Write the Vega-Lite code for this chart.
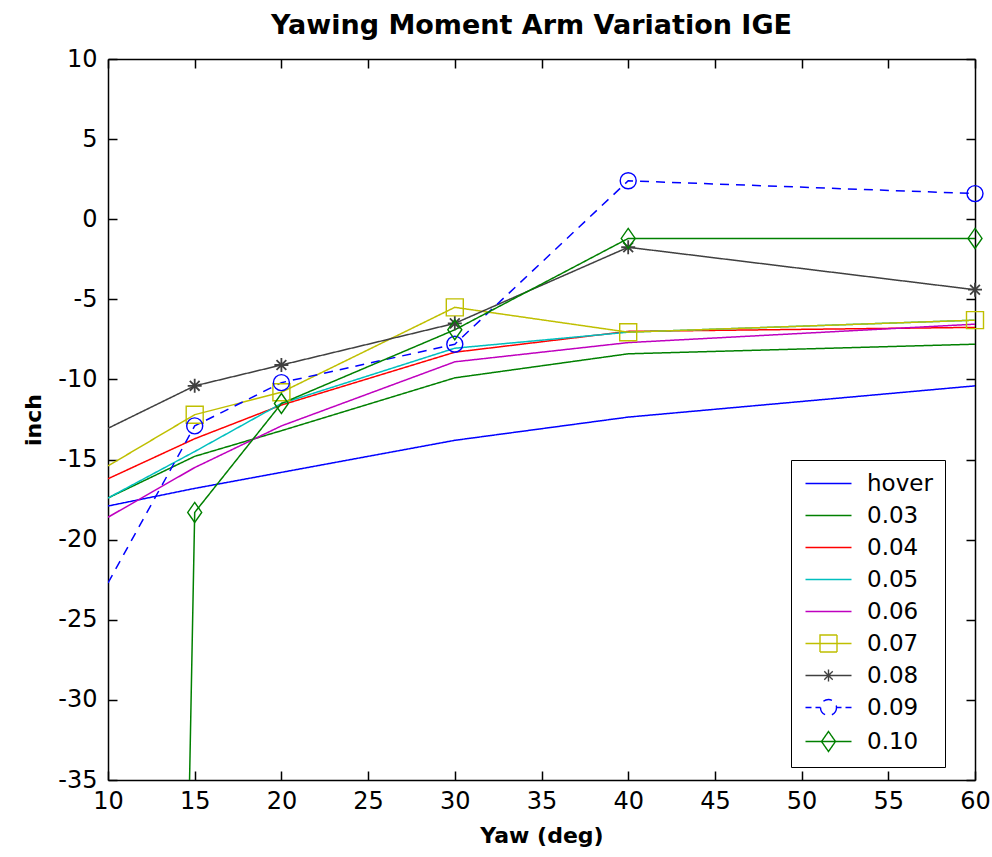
{
  "$schema": "https://vega.github.io/schema/vega-lite/v6.json",
  "width": 867,
  "height": 721,
  "autosize": "none",
  "padding": {"left": 108, "top": 59, "right": 17, "bottom": 77},
  "background": "white",
  "title": {"text": "Yawing Moment Arm Variation IGE", "font": "DejaVu Sans", "fontSize": 27, "fontWeight": "bold", "color": "black", "anchor": "middle", "offset": 7, "dx": -10},
  "config": {"view": {"stroke": null}},
  "data": {"values": [
    {"x": 10, "s": "hover", "v": -17.9}, {"x": 15, "s": "hover", "v": -16.8}, {"x": 20, "s": "hover", "v": -15.8}, {"x": 30, "s": "hover", "v": -13.8}, {"x": 40, "s": "hover", "v": -12.35}, {"x": 60, "s": "hover", "v": -10.4},
    {"x": 10, "s": "0.03", "v": -17.4}, {"x": 15, "s": "0.03", "v": -14.8}, {"x": 20, "s": "0.03", "v": -13.2}, {"x": 30, "s": "0.03", "v": -9.9}, {"x": 40, "s": "0.03", "v": -8.4}, {"x": 60, "s": "0.03", "v": -7.8},
    {"x": 10, "s": "0.04", "v": -16.2}, {"x": 15, "s": "0.04", "v": -13.7}, {"x": 20, "s": "0.04", "v": -11.6}, {"x": 30, "s": "0.04", "v": -8.3}, {"x": 40, "s": "0.04", "v": -7.0}, {"x": 60, "s": "0.04", "v": -6.75},
    {"x": 10, "s": "0.05", "v": -17.4}, {"x": 15, "s": "0.05", "v": -14.5}, {"x": 20, "s": "0.05", "v": -11.5}, {"x": 30, "s": "0.05", "v": -8.05}, {"x": 40, "s": "0.05", "v": -7.05}, {"x": 60, "s": "0.05", "v": -6.3},
    {"x": 10, "s": "0.06", "v": -18.6}, {"x": 15, "s": "0.06", "v": -15.5}, {"x": 20, "s": "0.06", "v": -12.9}, {"x": 30, "s": "0.06", "v": -8.9}, {"x": 40, "s": "0.06", "v": -7.7}, {"x": 60, "s": "0.06", "v": -6.55},
    {"x": 10, "s": "0.07", "v": -15.4}, {"x": 15, "s": "0.07", "v": -12.2}, {"x": 20, "s": "0.07", "v": -10.8}, {"x": 30, "s": "0.07", "v": -5.5}, {"x": 40, "s": "0.07", "v": -7.05}, {"x": 60, "s": "0.07", "v": -6.3},
    {"x": 10, "s": "0.08", "v": -13.05}, {"x": 15, "s": "0.08", "v": -10.4}, {"x": 20, "s": "0.08", "v": -9.1}, {"x": 30, "s": "0.08", "v": -6.5}, {"x": 40, "s": "0.08", "v": -1.75}, {"x": 60, "s": "0.08", "v": -4.4},
    {"x": 10, "s": "0.09", "v": -22.7}, {"x": 15, "s": "0.09", "v": -12.9}, {"x": 20, "s": "0.09", "v": -10.2}, {"x": 30, "s": "0.09", "v": -7.8}, {"x": 40, "s": "0.09", "v": 2.4}, {"x": 60, "s": "0.09", "v": 1.6},
    {"x": 10, "s": "0.10", "v": -300}, {"x": 15, "s": "0.10", "v": -18.3}, {"x": 20, "s": "0.10", "v": -11.5}, {"x": 30, "s": "0.10", "v": -6.9}, {"x": 40, "s": "0.10", "v": -1.2}, {"x": 60, "s": "0.10", "v": -1.2}
  ]},
  "layer": [
    {
      "transform": [{"filter": "datum.x < 0"}],
      "mark": {"type": "point", "filled": false, "strokeWidth": 1.4},
      "encoding": {
        "x": {"field": "x", "type": "quantitative", "axis": null, "scale": {"domain": [10, 60], "nice": false, "zero": false}},
        "y": {"field": "v", "type": "quantitative", "axis": null, "scale": {"domain": [-35, 10], "nice": false, "zero": false}},
        "color": {"field": "s", "type": "nominal",
          "scale": {"domain": ["hover", "0.03", "0.04", "0.05", "0.06", "0.07", "0.08", "0.09", "0.10"],
            "range": ["#0000FF", "#008000", "#FF0000", "#00BFBF", "#BF00BF", "#BFBF00", "#404040", "#0000FF", "#008000"]},
          "legend": {"title": null, "orient": "none", "legendX": 683, "legendY": 401, "padding": 12, "strokeColor": "black", "fillColor": "white", "cornerRadius": 0, "labelFont": "DejaVu Sans", "labelFontSize": 23, "labelColor": "black", "symbolSize": 400, "symbolStrokeWidth": 1.4, "symbolOpacity": 1, "labelOffset": 41, "rowPadding": 8}},
        "shape": {"field": "s", "type": "nominal",
          "scale": {"domain": ["hover", "0.03", "0.04", "0.05", "0.06", "0.07", "0.08", "0.09", "0.10"],
            "range": [
              "M-0.9,0H3.7",
              "M-0.9,0H3.7",
              "M-0.9,0H3.7",
              "M-0.9,0H3.7",
              "M-0.9,0H3.7",
              "M-0.9,0H3.7M0.55,-0.85H2.25V0.85H0.55Z",
              "M-0.9,0H3.7M1.4,-0.6V0.6M0.8,0H2.0M0.98,-0.42L1.82,0.42M0.98,0.42L1.82,-0.42",
              "M-0.9,0H-0.3M0.1,0H0.6M2.2,0H2.7M3.1,0H3.7M2.2,0A0.8,0.8,0,0,1,1.4,0.8A0.8,0.8,0,0,1,0.6,0A0.8,0.8,0,0,1,1.4,-0.8A0.8,0.8,0,0,1,2.2,0",
              "M-0.9,0H3.7M1.4,-1L2.1,0L1.4,1L0.7,0Z"
            ]},
          "legend": {"title": null, "orient": "none", "legendX": 683, "legendY": 401}}
      }
    },
    {
      "mark": {"type": "line", "clip": true, "strokeWidth": 1.5},
      "encoding": {
        "x": {"field": "x", "type": "quantitative",
          "axis": {"values": [10, 15, 20, 25, 30, 35, 40, 45, 50, 55, 60], "labelExpr": "'' + datum.value", "grid": false, "tickSize": -9, "tickWidth": 1.5, "tickColor": "black", "domainColor": "black", "domainWidth": 1.5, "labelFont": "DejaVu Sans", "labelFontSize": 24, "labelColor": "black", "labelPadding": 18, "labelFlush": false, "title": "Yaw (deg)", "titleFont": "DejaVu Sans", "titleFontSize": 22, "titleFontWeight": "bold", "titleColor": "black", "titlePadding": 12}},
        "y": {"field": "v", "type": "quantitative",
          "axis": {"values": [-35, -30, -25, -20, -15, -10, -5, 0, 5, 10], "labelExpr": "'' + datum.value", "grid": false, "tickSize": -9, "tickWidth": 1.5, "tickColor": "black", "domainColor": "black", "domainWidth": 1.5, "labelFont": "DejaVu Sans", "labelFontSize": 24, "labelColor": "black", "labelPadding": 20, "labelFlush": false, "title": "inch", "titleFont": "DejaVu Sans", "titleFontSize": 22, "titleFontWeight": "bold", "titleColor": "black", "titlePadding": 12}},
        "color": {"field": "s", "type": "nominal", "legend": null},
        "strokeDash": {"field": "s", "type": "nominal", "legend": null,
          "scale": {"domain": ["hover", "0.03", "0.04", "0.05", "0.06", "0.07", "0.08", "0.09", "0.10"],
            "range": [[1, 0], [1, 0], [1, 0], [1, 0], [1, 0], [1, 0], [1, 0], [9, 7], [1, 0]]}}
      }
    },
    {
      "transform": [{"filter": "datum.x >= 15 && datum.s == '0.07'"}],
      "mark": {"type": "point", "shape": "square", "size": 289, "filled": false, "strokeWidth": 1.4, "opacity": 1},
      "encoding": {"x": {"field": "x", "type": "quantitative", "axis": null}, "y": {"field": "v", "type": "quantitative", "axis": null}, "color": {"field": "s", "type": "nominal", "legend": null}}
    },
    {
      "transform": [{"filter": "datum.x >= 15 && datum.s == '0.08'"}],
      "mark": {"type": "point", "shape": "M0,-1V1M-1,0H1M-0.7,-0.7L0.7,0.7M-0.7,0.7L0.7,-0.7", "size": 196, "filled": false, "strokeWidth": 1.8, "opacity": 1},
      "encoding": {"x": {"field": "x", "type": "quantitative", "axis": null}, "y": {"field": "v", "type": "quantitative", "axis": null}, "color": {"field": "s", "type": "nominal", "legend": null}}
    },
    {
      "transform": [{"filter": "datum.x >= 15 && datum.s == '0.09'"}],
      "mark": {"type": "point", "shape": "circle", "size": 256, "filled": false, "strokeWidth": 1.4, "opacity": 1},
      "encoding": {"x": {"field": "x", "type": "quantitative", "axis": null}, "y": {"field": "v", "type": "quantitative", "axis": null}, "color": {"field": "s", "type": "nominal", "legend": null}}
    },
    {
      "transform": [{"filter": "datum.x >= 15 && datum.s == '0.10'"}],
      "mark": {"type": "point", "shape": "M0,-1L0.7,0L0,1L-0.7,0Z", "size": 400, "filled": false, "strokeWidth": 1.4, "opacity": 1},
      "encoding": {"x": {"field": "x", "type": "quantitative", "axis": null}, "y": {"field": "v", "type": "quantitative", "axis": null}, "color": {"field": "s", "type": "nominal", "legend": null}}
    },
    {
      "mark": {"type": "line", "opacity": 0},
      "transform": [{"filter": "datum.s == 'hover'"}],
      "encoding": {
        "x": {"field": "x", "type": "quantitative", "axis": {"orient": "top", "values": [10, 15, 20, 25, 30, 35, 40, 45, 50, 55, 60], "labels": false, "title": null, "grid": false, "tickSize": -9, "tickWidth": 1.5, "tickColor": "black", "domainColor": "black", "domainWidth": 1.5}},
        "y": {"field": "v", "type": "quantitative", "axis": {"orient": "right", "values": [-35, -30, -25, -20, -15, -10, -5, 0, 5, 10], "labels": false, "title": null, "grid": false, "tickSize": -9, "tickWidth": 1.5, "tickColor": "black", "domainColor": "black", "domainWidth": 1.5}}
      }
    }
  ],
  "resolve": {"axis": {"x": "independent", "y": "independent"}}
}
